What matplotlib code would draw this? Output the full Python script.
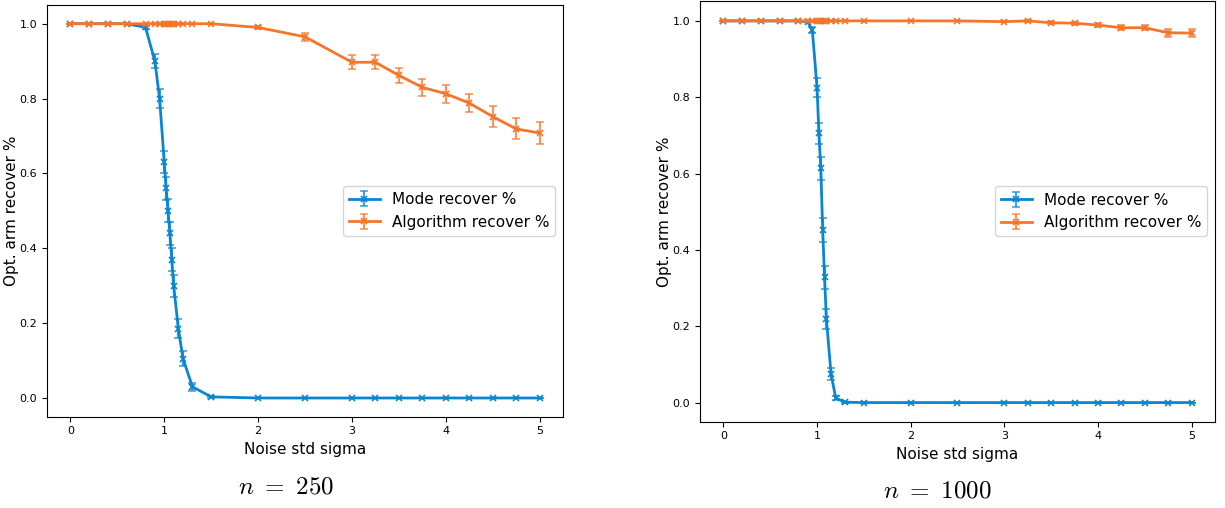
import matplotlib
matplotlib.use("Agg")
import matplotlib.pyplot as plt

plt.rcParams["mathtext.fontset"] = "cm"

BLUE = "#0a86d0"
ORANGE = "#f5762a"

sigma = [0, 0.2, 0.4, 0.6, 0.8, 0.9, 0.95, 1.0, 1.02, 1.04, 1.06, 1.08, 1.1,
         1.15, 1.2, 1.3, 1.5, 2, 2.5, 3, 3.25, 3.5, 3.75, 4, 4.25, 4.5, 4.75, 5]

# n = 250
mode_250 = [1, 1, 1, 1, 0.99, 0.90, 0.80, 0.63, 0.56, 0.50, 0.44, 0.37, 0.30,
            0.185, 0.105, 0.03, 0.003, 0, 0, 0, 0, 0, 0, 0, 0, 0, 0, 0]
mode_250_err = [0, 0, 0, 0, 0.004, 0.018, 0.025, 0.03, 0.031, 0.031, 0.031,
                0.03, 0.029, 0.025, 0.02, 0.011, 0.003, 0, 0, 0, 0, 0, 0, 0,
                0, 0, 0, 0]
alg_250 = [1] * 17 + [0.99, 0.965, 0.897, 0.897, 0.862, 0.83, 0.813, 0.788,
                      0.752, 0.719, 0.708]
alg_250_err = [0] * 17 + [0.004, 0.01, 0.019, 0.019, 0.02, 0.022, 0.024,
                          0.025, 0.027, 0.028, 0.029]

# n = 1000
mode_1000 = [1, 1, 1, 1, 1, 0.998, 0.975, 0.825, 0.705, 0.614, 0.453, 0.328,
             0.218, 0.074, 0.012, 0.001, 0, 0, 0, 0, 0, 0, 0, 0, 0, 0, 0, 0]
mode_1000_err = [0, 0, 0, 0, 0, 0.002, 0.008, 0.025, 0.028, 0.03, 0.031, 0.03,
                 0.026, 0.016, 0.005, 0.001, 0, 0, 0, 0, 0, 0, 0, 0, 0, 0, 0, 0]
alg_1000 = [1] * 19 + [0.998, 1.0, 0.995, 0.994, 0.989, 0.982, 0.982, 0.969,
                       0.968]
alg_1000_err = [0] * 19 + [0.002, 0.002, 0.004, 0.004, 0.005, 0.007, 0.007,
                           0.01, 0.01]

panels = [
    ([47 / 1225, 1 - 416.7 / 508, 516 / 1225, 411.7 / 508],
     mode_250, mode_250_err, alg_250, alg_250_err, r"$n\ =\ 250$", (285.8, 487)),
    ([700 / 1225, 1 - 421.7 / 508, 515 / 1225, 420.7 / 508],
     mode_1000, mode_1000_err, alg_1000, alg_1000_err, r"$n\ =\ 1000$", (937.5, 490)),
]

fig = plt.figure(figsize=(12.25, 5.08), dpi=100)

for rect, mode, mode_err, alg, alg_err, caption, (cx, cy) in panels:
    ax = fig.add_axes(rect)
    for y, e, c, lab in [(mode, mode_err, BLUE, "Mode recover %"),
                         (alg, alg_err, ORANGE, "Algorithm recover %")]:
        cont = ax.errorbar(sigma, y, yerr=e, color=c, marker="x", ms=4,
                           mew=1.2, lw=2, elinewidth=1.6, capsize=3,
                           capthick=1.4, label=lab)
        for art in cont[1]:
            art.set_alpha(0.75)
        for art in cont[2]:
            art.set_alpha(0.75)
    ax.set_xlabel("Noise std sigma", fontsize=11)
    ax.set_ylabel("Opt. arm recover %", fontsize=11)
    ax.yaxis.set_label_coords(-28 / (rect[2] * 1225), 0.5)
    ax.tick_params(labelsize=8)
    ax.legend(loc="center right", fontsize=11)
    fig.text(cx / 1225, 1 - cy / 508, caption, fontsize=18,
             ha="center", va="center")

fig.savefig("out.png", dpi=100)
